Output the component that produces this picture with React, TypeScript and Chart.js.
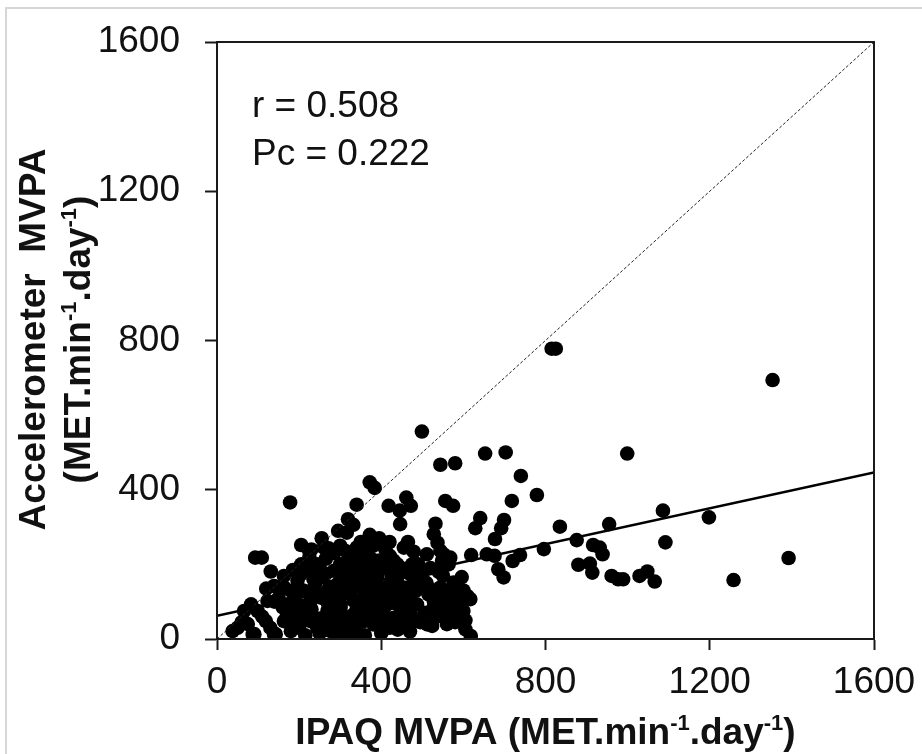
import React, { useEffect, useRef } from "react";
import { Chart, registerables } from "chart.js";

Chart.register(...registerables);

// IPAQ MVPA (x) and accelerometer MVPA (y), MET.min-1.day-1
const ipaqMVPA = [
  1353, 1198, 1392, 1258, 999, 1086, 955, 1092, 932, 939, 961, 977, 989, 1029, 1048, 1066,
  653, 703, 580, 544, 740, 779, 718, 556, 575, 641, 629, 699, 692, 835, 677, 876, 916, 796,
  619, 657, 676, 738, 720, 552, 548, 880, 908, 914, 685, 698, 596, 576, 564, 617, 592, 568,
  600, 605, 618, 815, 825, 499, 372, 384, 178, 418, 445, 461, 472, 446, 340, 319, 332, 295,
  316, 372, 532, 528, 537, 544, 552, 564, 455, 479, 511, 205, 224, 272, 93, 109, 131, 163,
  313, 333, 366, 421, 439, 160, 139, 83, 66, 99, 38, 91, 143, 119, 172, 196, 228, 180, 212,
  244, 269, 228, 253, 196, 180, 253, 269, 285, 293, 350, 370, 418, 406, 431, 447, 471, 463,
  520, 536, 487, 471, 512, 524, 560, 576, 588, 552, 325, 357, 381, 301, 333, 366, 390, 293,
  325, 357, 381, 406, 431, 439, 415, 340, 309, 422, 439, 123, 163, 204, 236, 253, 204, 228,
  277, 163, 180, 301, 325, 350, 301, 333, 370, 390, 431, 406, 325, 447, 479, 528, 544, 576,
  560, 87, 139, 568, 60,
  150, 170, 190, 210, 230, 240, 260, 270, 280, 290, 310, 320, 340, 345, 360, 375, 380, 395,
  400, 410, 420, 425, 440, 450, 455, 460, 470, 480, 490, 500, 505, 515, 520, 535, 545, 550,
  560, 585, 590, 600, 605, 245, 265, 285, 300, 320, 345, 360, 385, 395, 410, 430, 200, 215,
  250, 290, 320, 360, 400, 440, 470, 120, 140, 110, 75, 50, 205, 185, 230, 255, 300, 350,
  395, 270, 310, 230,
  130, 160, 185, 215, 235, 250, 265, 275, 285, 295, 305, 315, 330, 335, 355, 365, 375, 385,
  390, 405, 415, 425, 435, 445, 455, 465, 475, 485, 495, 510, 525, 540, 555, 570, 580, 595,
  610, 200, 225, 260, 340, 380, 420, 465,
];
const accelMVPA = [
  694, 326, 217, 158, 497, 344, 308, 259, 245, 227, 169, 160, 160, 169, 181, 154,
  497, 500, 471, 467, 437, 386, 370, 370, 357, 324, 297, 319, 297, 301, 268, 265, 252, 241,
  225, 227, 223, 225, 209, 227, 209, 199, 202, 178, 187, 165, 166, 151, 124, 107, 102, 66,
  75, 26, 8, 778, 778, 556, 420, 405, 366, 357, 344, 379, 357, 308, 360, 321, 306, 290,
  285, 279, 309, 281, 258, 236, 218, 200, 245, 234, 227, 252, 238, 243, 218, 218, 181, 169,
  236, 227, 236, 223, 200, 142, 142, 93, 75, 75, 21, 13, 13, 48, 93, 84, 102, 57, 57,
  30, 30, 183, 165, 156, 129, 111, 75, 183, 147, 227, 209, 218, 191, 183, 191, 174, 138,
  133, 111, 93, 66, 39, 35, 129, 138, 124, 93, 156, 165, 156, 93, 102, 93, 102, 48,
  39, 48, 39, 48, 57, 93, 93, 21, 21, 147, 129, 102, 138, 174, 200, 183, 66, 48,
  21, 48, 21, 138, 120, 102, 84, 66, 60, 66, 111, 129, 174, 66, 48, 102, 138, 84,
  66, 12, 12, 218, 45,
  110, 60, 110, 130, 80, 150, 120, 95, 60, 110, 60, 130, 80, 140, 120, 80, 110, 140,
  60, 115, 30, 170, 150, 110, 80, 40, 120, 150, 200, 170, 70, 120, 190, 60, 90, 170,
  40, 150, 60, 130, 50, 200, 215, 230, 200, 190, 200, 185, 185, 210, 240, 210, 30, 10,
  15, 10, 10, 10, 15, 25, 20, 135, 100, 60, 40, 30, 200, 185, 240, 270, 250, 260,
  270, 130, 170, 130,
  30, 85, 40, 90, 160, 55, 175, 140, 35, 85, 125, 205, 45, 185, 70, 135, 215, 45,
  165, 75, 195, 110, 40, 135, 180, 95, 200, 130, 45, 150, 80, 180, 110, 100, 45, 95,
  115, 170, 220, 245, 245, 250, 260, 260,
];

const axisTicks = [0, 400, 800, 1200, 1600];
const regressionIntercept = 62;
const regressionSlope = 0.24;
const statLabels = ["r = 0.508", "Pc = 0.222"];

// rich text parts: [text, isSuperscript]
const xTitleParts: [string, boolean][] = [
  ["IPAQ MVPA (MET.min", false], ["-1", true], [".day", false], ["-1", true], [")", false],
];
const yTitleLine1: [string, boolean][] = [["Accelerometer  MVPA", false]];
const yTitleLine2: [string, boolean][] = [
  ["(MET.min", false], ["-1", true], [".day", false], ["-1", true], [")", false],
];

const FONT = '"Liberation Sans", Arial, sans-serif';

function drawRich(ctx: CanvasRenderingContext2D, parts: [string, boolean][], cx: number, baseline: number, size: number) {
  const big = `bold ${size}px ${FONT}`;
  const small = `bold ${Math.round(size * 0.6)}px ${FONT}`;
  let total = 0;
  const widths = parts.map(([t, sup]) => {
    ctx.font = sup ? small : big;
    const w = ctx.measureText(t).width;
    total += w;
    return w;
  });
  let x = cx - total / 2;
  ctx.textAlign = "left";
  ctx.textBaseline = "alphabetic";
  parts.forEach(([t, sup], i) => {
    ctx.font = sup ? small : big;
    ctx.fillText(t, x, sup ? baseline - size * 0.38 : baseline);
    x += widths[i];
  });
}

const decorPlugin = {
  id: "decor",
  afterDatasetsDraw(chart: any) {
    const { ctx, chartArea } = chart;
    const { left, right, top, bottom } = chartArea;
    ctx.save();
    ctx.strokeStyle = "#1a1a1a";
    ctx.lineWidth = 2;
    ctx.strokeRect(left, top, right - left, bottom - top);
    ctx.restore();
  },
  afterDraw(chart: any) {
    const { ctx, chartArea } = chart;
    const { left, right, top, bottom } = chartArea;
    ctx.save();
    ctx.fillStyle = "#111";
    drawRich(ctx, xTitleParts, (left + right) / 2, 744, 37);
    const cy = (top + bottom) / 2 - 1;
    ctx.translate(0, cy);
    ctx.rotate(-Math.PI / 2);
    drawRich(ctx, yTitleLine1, 0, 45, 37);
    drawRich(ctx, yTitleLine2, 0, 90, 37);
    ctx.setTransform(1, 0, 0, 1, 0, 0);
    ctx.font = `37px ${FONT}`;
    ctx.textAlign = "left";
    ctx.textBaseline = "alphabetic";
    ctx.fillText(statLabels[0], 252, 117);
    ctx.fillText(statLabels[1], 252, 165);
    ctx.restore();
  },
};

export default function App() {
  const canvasRef = useRef<HTMLCanvasElement | null>(null);

  useEffect(() => {
    document.body.style.margin = "0";
    const canvas = canvasRef.current;
    if (!canvas) return;
    const points = ipaqMVPA.map((x, i) => ({ x, y: accelMVPA[i] }));
    const xMin = axisTicks[0];
    const xMax = axisTicks[axisTicks.length - 1];
    const fmt = (v: any) => String(v);
    const chart = new Chart(canvas, {
      type: "scatter",
      data: {
        datasets: [
          {
            type: "line",
            label: "Regression",
            data: [
              { x: xMin, y: regressionIntercept + regressionSlope * xMin },
              { x: xMax, y: regressionIntercept + regressionSlope * xMax },
            ],
            borderColor: "#000",
            borderWidth: 2.5,
            pointRadius: 0,
            fill: false,
            order: 0,
          } as any,
          {
            type: "line",
            label: "Identity",
            data: [
              { x: xMin, y: xMin },
              { x: xMax, y: xMax },
            ],
            borderColor: "#222",
            borderWidth: 1,
            borderDash: [3, 2],
            pointRadius: 0,
            fill: false,
            order: 0,
          } as any,
          {
            label: "Participants",
            data: points,
            backgroundColor: "#000",
            borderColor: "#000",
            borderWidth: 0,
            pointRadius: 7.3,
            order: 1,
          },
        ],
      },
      options: {
        animation: false,
        responsive: false,
        devicePixelRatio: 1,
        layout: { padding: { top: 42, right: 48, left: 0, bottom: 0 } },
        plugins: { legend: { display: false }, tooltip: { enabled: false } },
        scales: {
          x: {
            type: "linear",
            min: xMin,
            max: xMax,
            afterFit: (s: any) => {
              s.height = 115;
              s.paddingLeft = 0;
              s.paddingRight = 0;
            },
            afterBuildTicks: (s: any) => { s.ticks = axisTicks.map((v) => ({ value: v })); },
            ticks: {
              maxRotation: 0,
              minRotation: 0,
              padding: 11,
              color: "#111",
              callback: fmt,
              font: { family: FONT, size: 37 },
            },
            grid: { drawOnChartArea: false, drawTicks: true, tickLength: 11, tickWidth: 2, color: "#1a1a1a" },
            border: { display: true, width: 2, color: "#1a1a1a" },
          },
          y: {
            type: "linear",
            min: xMin,
            max: xMax,
            afterFit: (s: any) => {
              s.width = 217;
              s.paddingTop = 0;
              s.paddingBottom = 0;
            },
            afterBuildTicks: (s: any) => { s.ticks = axisTicks.map((v) => ({ value: v })); },
            ticks: {
              padding: 25,
              color: "#111",
              callback: fmt,
              font: { family: FONT, size: 37 },
            },
            grid: { drawOnChartArea: false, drawTicks: true, tickLength: 12, tickWidth: 2, color: "#1a1a1a" },
            border: { display: true, width: 2, color: "#1a1a1a" },
          },
        },
      },
      plugins: [decorPlugin],
    });
    return () => chart.destroy();
  }, []);

  return (
    <div style={{ position: "relative", width: 922, height: 754, background: "#fff", overflow: "hidden" }}>
      <canvas ref={canvasRef} width={922} height={754} style={{ display: "block", width: 922, height: 754 }} />
      <div
        style={{
          position: "absolute",
          left: 5,
          top: 7,
          width: 940,
          height: 780,
          borderLeft: "2px solid #d6d6d6",
          borderTop: "2px solid #d6d6d6",
          pointerEvents: "none",
        }}
      />
    </div>
  );
}
